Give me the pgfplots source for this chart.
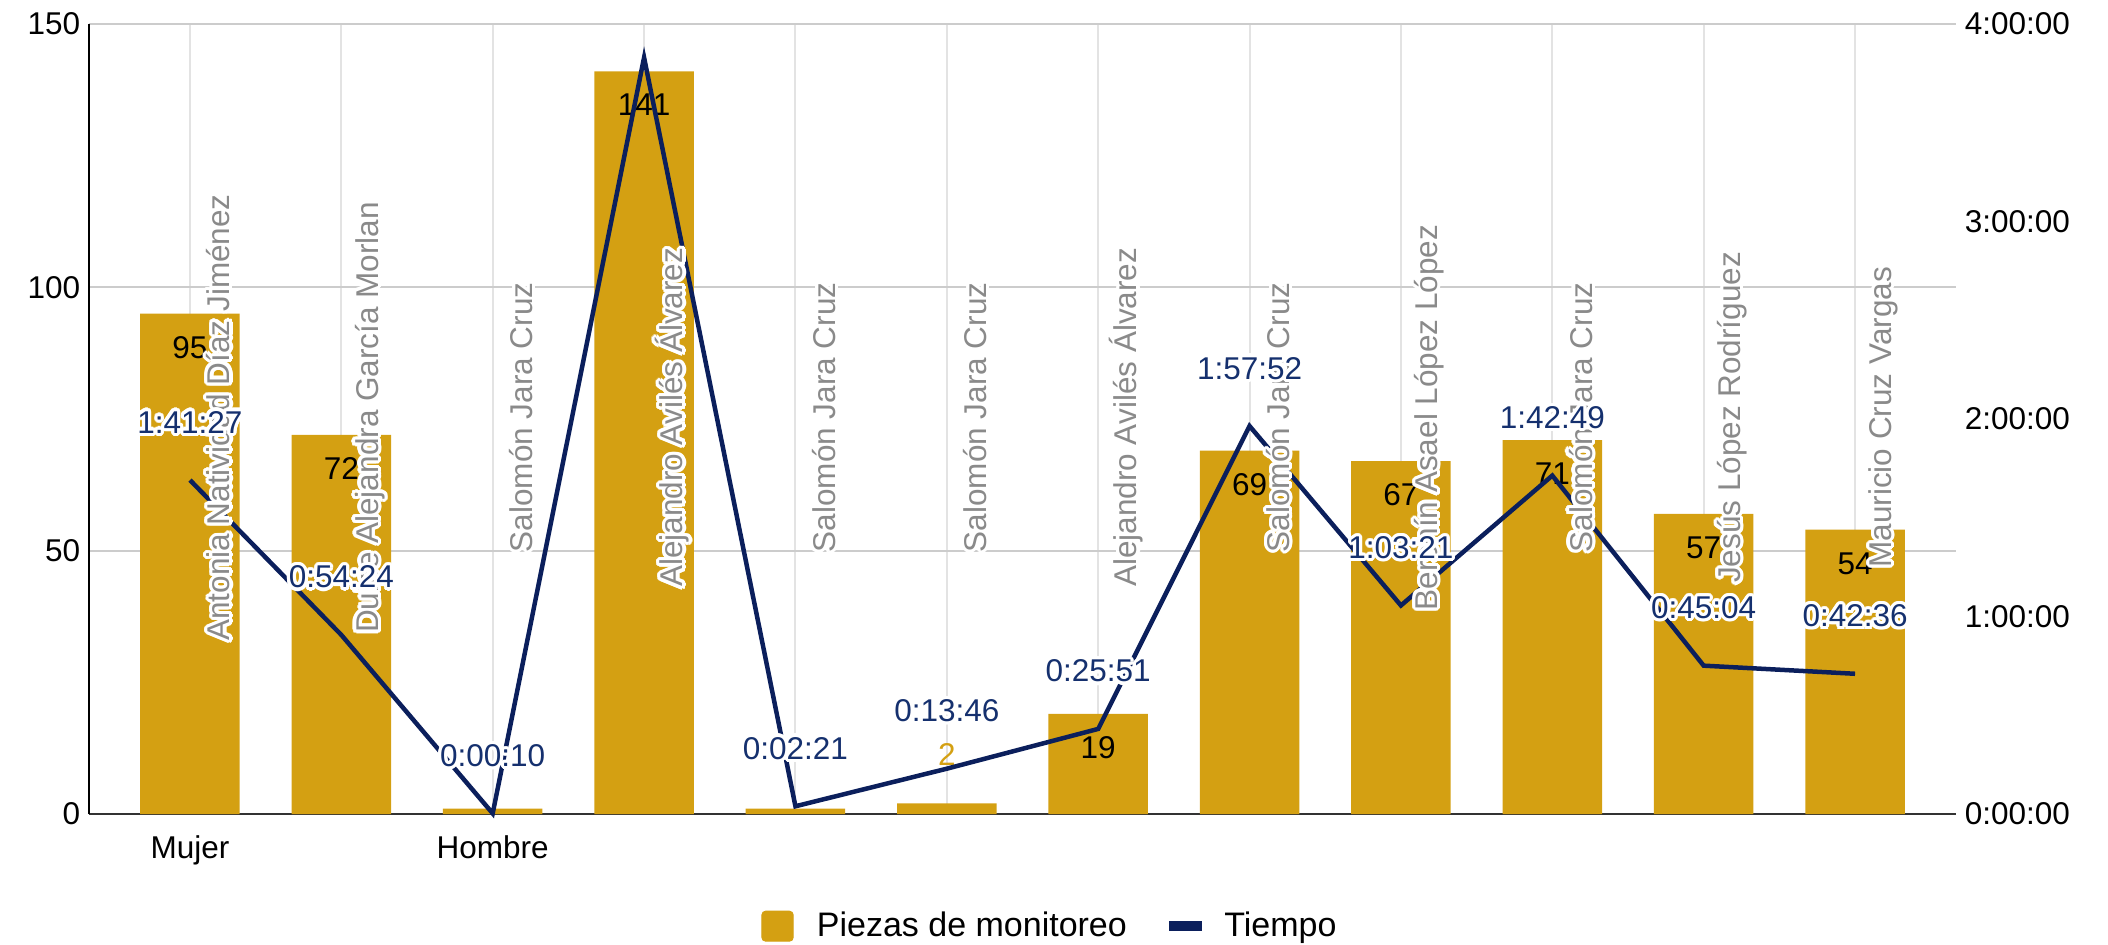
\documentclass[border=0pt]{standalone}
\usepackage{pgfplots}
\pgfplotsset{compat=1.18}
\usepackage{pgfplotstable}
\usepackage{fontspec}
\setmainfont{Liberation Sans}
\usepackage{contour}
\contourlength{1.3pt}
\definecolor{gold}{HTML}{D4A012}
\definecolor{navy}{HTML}{0B1F5C}
\definecolor{lblnavy}{HTML}{15306E}
\definecolor{namegray}{HTML}{8A8A8A}
\definecolor{vgrid}{HTML}{E3E3E3}
\definecolor{hgrid}{HTML}{CCCCCC}
\newcommand{\fs}{\fontsize{12.6}{15}\selectfont}

\pgfplotstableread{
x y
0 95
1 72
2 1
3 141
4 1
5 2
6 19
7 69
8 67
9 71
10 57
11 54
}\bars

\pgfplotstableread{
x y label
0 95 95
1 72 72
3 141 141
6 19 19
7 69 69
8 67 67
9 71 71
10 57 57
11 54 54
}\barlabels

\pgfplotstableread{
x t
0 1.6908
1 0.9067
2 0.0028
3 3.83
4 0.0392
5 0.2294
6 0.4308
7 1.9644
8 1.0558
9 1.7136
10 0.7511
11 0.7100
}\tiempo

\pgfplotstableread{
x t label
0 1.6908 1:41:27
1 0.9067 0:54:24
2 0.0028 0:00:10
4 0.0392 0:02:21
5 0.2294 0:13:46
6 0.4308 0:25:51
7 1.9644 1:57:52
8 1.0558 1:03:21
9 1.7136 1:42:49
10 0.7511 0:45:04
11 0.7100 0:42:36
}\tlabels

\pgfplotstableread[col sep=comma]{
x,y,name
0,2.008,Antonia Natividad Díaz Jiménez
1,2.008,Dulce Alejandra García Morlan
2,2.008,Salomón Jara Cruz
3,2.008,Alejandro Avilés Álvarez
4,2.008,Salomón Jara Cruz
5,2.008,Salomón Jara Cruz
6,2.008,Alejandro Avilés Álvarez
7,2.008,Salomón Jara Cruz
8,2.008,Bershín Asael López López
9,2.008,Salomón Jara Cruz
10,2.008,Jesús López Rodríguez
11,2.008,Mauricio Cruz Vargas
}\names

\begin{document}
\begin{tikzpicture}
\path[use as bounding box] (-35.6pt,-52pt) rectangle (807.6pt,325.6pt);
\begin{axis}[
  at={(0,0)}, anchor=south west, scale only axis,
  width=746.8pt, height=316pt,
  xmin=-0.667, xmax=11.667, ymin=0, ymax=150,
  xtick={0,...,11}, xticklabels={Mujer,,Hombre,,,,,,,,,},
  ytick={0,50,100,150},
  major tick length=0pt,
  xmajorgrids, ymajorgrids,
  x grid style={vgrid, line width=0.8pt},
  y grid style={hgrid, line width=0.9pt},
  axis x line*=bottom, axis y line*=left,
  x axis line style={-, draw=black!80, line width=1pt},
  y axis line style={-, draw=black, line width=0.8pt},
  tick label style={font=\fs, text=black},
  xticklabel style={yshift=-5pt},
  /pgf/number format/assume math mode=true,
  clip=false,
]
\addplot[ybar, bar width=0.657, fill=gold, draw=none] table[x=x,y=y]{\bars};
\addplot[draw=none, mark=none, nodes near coords, point meta=explicit symbolic,
  every node near coord/.append style={anchor=center, yshift=-13.5pt, font=\fs, text=black}]
  table[x=x,y=y,meta=label]{\barlabels};
\addplot[draw=none, mark=none, nodes near coords, point meta=explicit symbolic,
  every node near coord/.append style={anchor=center, yshift=19.4pt, font=\fs, text=gold}]
  coordinates {(5,2) [2]};
\end{axis}
\begin{axis}[
  at={(0,0)}, anchor=south west, scale only axis,
  width=746.8pt, height=316pt,
  xmin=-0.667, xmax=11.667, ymin=0, ymax=4,
  axis x line=none, axis y line*=right,
  y axis line style={draw=none},
  ytick={0,1,2,3,4},
  yticklabels={0:00:00,1:00:00,2:00:00,3:00:00,4:00:00},
  major tick length=0pt,
  tick label style={font=\fs, text=black},
  clip=false,
  legend style={at={(axis description cs:0.5155,-0.142)}, anchor=center, draw=none,
    font=\fontsize{13.6}{16}\selectfont, legend columns=-1,
    /tikz/every even column/.append style={column sep=13pt}},
]
\addlegendimage{legend image code/.code={\fill[gold, rounded corners=1.5pt] (0pt,-6pt) rectangle (12.5pt,6pt); \path[draw=none, fill=none] (0pt,0pt) -- (20pt,0pt);}}
\addlegendentry{Piezas de monitoreo}
\addplot[navy, line width=1.8pt, mark=none,
  legend image code/.code={\draw[navy, line width=4pt] (0pt,0pt) -- (13pt,0pt); \path[draw=none, fill=none] (0pt,0pt) -- (20pt,0pt);}]
  table[x=x,y=t]{\tiempo};
\addlegendentry{Tiempo}
\addplot[forget plot, draw=none, mark=none, point meta=explicit symbolic,
  nodes near coords={\contour{white}{\pgfplotspointmeta}},
  every node near coord/.append style={xshift=12pt, rotate=90, anchor=center, font=\fs, text=namegray}]
  table[x=x,y=y,meta=name]{\names};
\addplot[forget plot, draw=none, mark=none, point meta=explicit symbolic,
  nodes near coords={\contour{white}{\pgfplotspointmeta}},
  every node near coord/.append style={anchor=center, yshift=22.5pt, font=\fs, text=lblnavy}]
  table[x=x,y=t,meta=label]{\tlabels};
\end{axis}
\end{tikzpicture}
\end{document}
